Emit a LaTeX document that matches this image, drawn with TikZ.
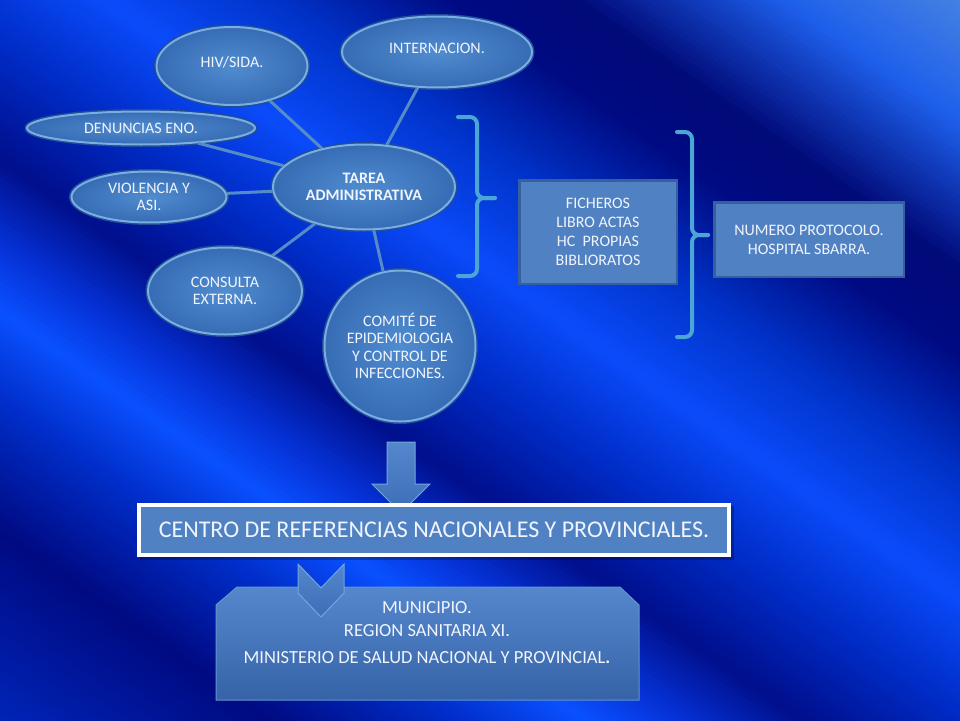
\documentclass[tikz,border=0pt]{standalone}
\usepackage{fontspec}
\setmainfont{Carlito}
\usetikzlibrary{shapes.geometric}
\definecolor{c0}{RGB}{75,135,225}
\definecolor{c1}{RGB}{30,95,235}
\definecolor{c2}{RGB}{0,10,120}
\definecolor{c3}{RGB}{0,10,130}
\definecolor{c4}{RGB}{0,50,200}
\definecolor{c5}{RGB}{10,75,250}
\definecolor{c6}{RGB}{0,45,200}
\definecolor{c7}{RGB}{0,15,140}
\definecolor{c8}{RGB}{5,50,215}
\definecolor{c9}{RGB}{10,80,255}
\definecolor{c10}{RGB}{0,45,200}
\definecolor{c11}{RGB}{0,10,130}
\definecolor{c12}{RGB}{0,40,190}
\definecolor{ellin}{RGB}{80,140,208}
\definecolor{ellout}{RGB}{55,108,180}
\definecolor{ellrim}{RGB}{120,175,226}
\definecolor{elldark}{RGB}{35,75,150}
\definecolor{linkc}{RGB}{85,140,200}
\definecolor{bracec}{RGB}{75,165,215}
\definecolor{boxfill}{RGB}{80,130,195}
\definecolor{boxedge}{RGB}{55,95,160}
\definecolor{txt}{RGB}{240,244,252}
\definecolor{arrtop}{RGB}{85,135,205}
\definecolor{arrbot}{RGB}{60,110,185}
\definecolor{arredge}{RGB}{115,165,218}
\tikzset{
  ell/.style={ellipse, inner sep=0pt, inner color=ellin, outer color=ellout,
    preaction={draw=elldark, line width=5pt},
    draw=ellrim, line width=2pt, text=txt, align=center,
    font=\fontsize{16}{17.5}\selectfont},
  link/.style={draw=linkc, line width=3pt},
  bracket/.style={draw=bracec, line width=4pt, rounded corners=7pt, line cap=round},
  infobox/.style={rectangle, fill=boxfill, draw=boxedge, line width=2.5pt,
    text=txt, align=center, font=\fontsize{16}{19}\selectfont},
  blockarrow/.style={top color=arrtop, bottom color=arrbot, draw=arredge, line width=1pt},
}
\begin{document}
\begin{tikzpicture}[x=1pt,y=-1pt]
\useasboundingbox (0,0) rectangle (960,720);
% background
\begin{scope}
\clip (0,0) rectangle (960,720);
\begin{scope}[x={(-0.573pt,-0.819pt)}, y={(0.819pt,-0.573pt)}]
\foreach \pa/\pb/\ca/\cb in {-570/-450/c0/c1, -450/-330/c1/c2, -330/-260/c2/c3, -260/-160/c3/c4, -160/-60/c4/c5, -60/30/c5/c6, 30/130/c6/c7, 130/200/c7/c8, 200/255/c8/c9, 255/330/c9/c10, 330/435/c10/c11, 435/610/c11/c12}{
  \pgfmathtruncatemacro{\n}{(\pb-\pa)/5}
  \pgfmathsetmacro{\dq}{(\pb-\pa)/\n}
  \foreach \k in {1,...,\n}{
    \pgfmathsetmacro{\q}{\pa+\dq*(\k-1)}
    \pgfmathsetmacro{\qq}{\pa+\dq*\k+0.7}
    \pgfmathtruncatemacro{\f}{100*(\k-0.5)/\n}
    \fill[\cb!\f!\ca] (\q,-30) -- (\qq,-30) -- (\qq,1230) -- (\q,1230) -- cycle;
  }
}
\end{scope}
\end{scope}

% ellipses
\node[ell, minimum width=151, minimum height=78] (hiv) at (232,66) {\raisebox{4pt}[\height][\depth]{HIV/SIDA.}};
\node[ell, minimum width=190, minimum height=71] (intern) at (437,52) {\raisebox{4pt}[\height][\depth]{INTERNACION.}};
\node[ell, minimum width=228, minimum height=33] (denun) at (141,128) {DENUNCIAS ENO.};
\node[ell, minimum width=155, minimum height=51] (viol) at (149,197) {VIOLENCIA Y\\ASI.};
\node[ell, minimum width=182, minimum height=85, font=\fontsize{16}{17.5}\selectfont\bfseries] (tarea) at (364,187) {TAREA\\ADMINISTRATIVA};
\node[ell, minimum width=154, minimum height=87] (consul) at (225,291) {CONSULTA\\EXTERNA.};
\node[ell, minimum width=151, minimum height=151] (comite) at (400,346) {COMITÉ DE\\EPIDEMIOLOGIA\\Y CONTROL DE\\INFECCIONES.};

% connectors
\draw[link] (tarea) -- (hiv);
\draw[link] (tarea) -- (intern);
\draw[link] (tarea) -- (denun);
\draw[link] (tarea) -- (viol);
\draw[link] (tarea) -- (consul);
\draw[link] (tarea) -- (comite);

% braces
\draw[bracket] (458,117) -- (477,117) -- (477,198) -- (495,198);
\draw[bracket] (495,198) -- (477,198) -- (477,276) -- (458,276);
\draw[bracket] (677,132) -- (692,132) -- (692,235) -- (708,235);
\draw[bracket] (708,235) -- (692,235) -- (692,337) -- (677,337);

% boxes
\node[infobox, minimum width=157.5, minimum height=103.5] (fich) at (598,232) {FICHEROS\\LIBRO ACTAS\\HC~~PROPIAS\\BIBLIORATOS};
\node[infobox, minimum width=189.5, minimum height=74.5] (numero) at (809,239.5) {NUMERO PROTOCOLO.\\HOSPITAL SBARRA.};

% down block arrow
\path[blockarrow] (387,442) -- (415,442) -- (415,484) -- (430,484) -- (401,513) -- (372,484) -- (387,484) -- cycle;

% centro box
\fill[black, opacity=0.25] (140,506) rectangle (734,560);
\node[rectangle, fill=boxfill, draw=white, line width=4pt, minimum width=590, minimum height=50,
  text=txt, font=\fontsize{24}{28}\selectfont] (centro) at (434,530) {CENTRO DE REFERENCIAS NACIONALES Y PROVINCIALES.};

% bottom box
\path[top color=arrtop, bottom color=arrbot!90!black, draw=arredge!70!arrbot, line width=1pt]
  (216,605) -- (237,587) -- (620,587) -- (639,605) -- (639,700) -- (216,700) -- cycle;
\node[text=txt, align=center, font=\fontsize{18.5}{23}\selectfont] (muni) at (427,633)
  {MUNICIPIO.\\REGION SANITARIA XI.\\[4pt]MINISTERIO DE SALUD NACIONAL Y PROVINCIAL\textbf{.}};

% chevron
\path[blockarrow] (298,564) -- (321,588) -- (344,564) -- (344,593) -- (321,617) -- (298,593) -- cycle;
\end{tikzpicture}
\end{document}
